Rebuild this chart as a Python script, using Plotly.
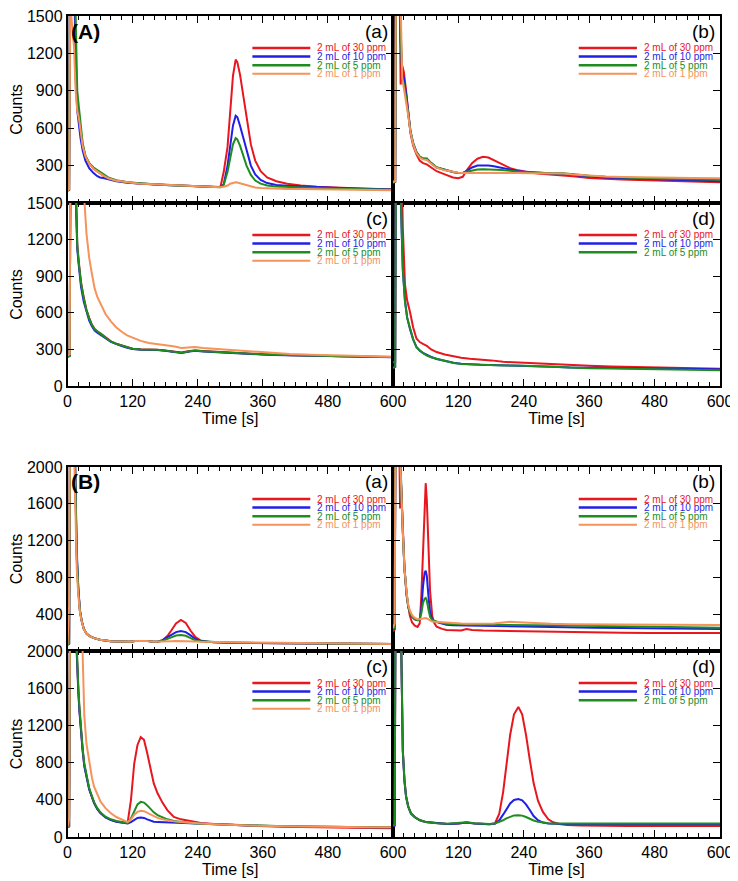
import plotly.graph_objects as go

# Page body has an 8px margin; positions below are measured in window pixels and shifted by OFF.
OFF = 8
W, H = 730, 873

# ---------------- DATA ----------------
series_names = ["2 mL of 30 ppm", "2 mL of 10 ppm", "2 mL of 5 ppm", "2 mL of 1 ppm"]
series_colors = ["#e8161e", "#1f1fe6", "#1e8c1e", "#f5935a"]

# Group A, panel (a)
tAa = [0, 3, 5, 8, 12, 15, 18, 21, 24, 28, 33, 40, 48, 55, 60, 66, 75, 90, 110, 130, 160, 190, 220, 250, 270, 282,
       288, 295, 300, 305, 310, 313, 318, 324, 330, 338, 346, 356, 368, 385, 405, 430, 460, 500, 550, 600]
Aa_30 = [100, 105, 2500, 3000, 2200, 1200, 780, 700, 570, 460, 380, 320, 275, 250, 238, 220, 198, 178, 165, 157, 150, 143, 137, 131, 128, 130,
         250, 450, 750, 1020, 1150, 1130, 1030, 860, 680, 470, 340, 255, 205, 175, 155, 140, 130, 122, 115, 110]
Aa_10 = [100, 105, 2400, 3000, 2000, 1000, 740, 600, 520, 420, 340, 280, 240, 215, 205, 200, 190, 175, 163, 156, 149, 142, 136, 130, 127, 128,
         150, 300, 460, 620, 700, 690, 620, 520, 410, 300, 230, 185, 160, 145, 138, 135, 128, 120, 113, 108]
Aa_5 = [100, 105, 2300, 3000, 2500, 1500, 900, 770, 640, 480, 380, 320, 285, 262, 250, 232, 205, 182, 167, 158, 150, 143, 137, 131, 128, 127,
        145, 250, 360, 470, 520, 510, 460, 380, 300, 225, 180, 155, 140, 132, 128, 125, 120, 115, 110, 106]
Aa_1 = [100, 110, 1600, 1450, 1250, 900, 740, 680, 560, 455, 375, 315, 275, 250, 238, 220, 198, 178, 165, 157, 150, 143, 137, 131, 128, 127,
        130, 140, 155, 163, 166, 165, 158, 150, 140, 130, 124, 120, 117, 115, 113, 112, 110, 107, 104, 102]

# Group A, panel (b)
tAb = [0, 4, 6, 9, 12, 14, 17, 20, 24, 28, 32, 37, 43, 49, 55, 62, 70, 80, 95, 110, 120, 128, 135, 145, 155, 165, 175, 185,
       200, 215, 230, 250, 270, 290, 312, 330, 360, 390, 420, 450, 500, 550, 600]
Ab_30 = [175, 180, 2500, 3000, 1800, 950, 1100, 1050, 900, 700, 560, 460, 390, 340, 320, 310, 285, 255, 230, 205, 198, 210, 260, 320, 355, 370, 365, 345,
         310, 280, 262, 245, 235, 228, 225, 215, 200, 192, 188, 185, 178, 172, 166]
Ab_10 = [165, 170, 2400, 3000, 2000, 1300, 1050, 1000, 880, 720, 580, 480, 410, 370, 355, 355, 320, 285, 265, 248, 240, 240, 258, 285, 300, 302, 300, 295,
         280, 265, 255, 248, 240, 237, 235, 225, 212, 205, 200, 196, 188, 182, 175]
Ab_5 = [165, 170, 2300, 3000, 2200, 1400, 1000, 950, 850, 710, 575, 478, 408, 372, 357, 357, 322, 287, 266, 249, 241, 242, 250, 262, 268, 270, 270, 270,
        265, 258, 250, 246, 241, 238, 238, 230, 218, 210, 204, 200, 194, 190, 187]
Ab_1 = [165, 175, 3000, 3000, 2500, 1600, 1000, 920, 820, 700, 570, 470, 400, 365, 350, 345, 315, 283, 262, 248, 242, 240, 240, 242, 245, 245, 245, 245,
        245, 243, 240, 238, 236, 235, 236, 228, 218, 212, 208, 205, 202, 200, 198]

# Group A, panel (c)
tAc = [0, 4, 6, 9, 12, 15, 18, 21, 25, 30, 35, 40, 45, 50, 55, 62, 70, 80, 90, 100, 110, 120, 135, 150, 165, 180, 195, 210,
       225, 235, 250, 270, 290, 310, 330, 350, 380, 410, 450, 500, 550, 600]
Ac_30 = [245, 250, 2500, 3000, 2500, 1700, 1160, 1010, 850, 725, 625, 558, 503, 468, 447, 427, 397, 366, 346, 331, 316, 306, 301, 301, 298, 291, 284, 274,
         286, 291, 286, 281, 273, 268, 265, 262, 257, 253, 250, 245, 240, 238]
Ac_10 = [240, 245, 2500, 3000, 2400, 1600, 1120, 980, 810, 690, 600, 535, 490, 455, 437, 418, 392, 362, 343, 328, 313, 303, 298, 298, 295, 288, 281, 271,
         283, 288, 283, 278, 271, 266, 263, 260, 255, 251, 248, 243, 239, 236]
Ac_5 = [240, 245, 2500, 3000, 2500, 1700, 1150, 1000, 840, 720, 620, 555, 500, 465, 445, 425, 395, 365, 345, 330, 315, 305, 300, 300, 297, 290, 283, 272,
        285, 290, 285, 280, 272, 268, 265, 262, 257, 253, 250, 245, 240, 238]
Ac_1 = [250, 260, 3000, 3000, 3000, 3000, 3000, 3000, 2500, 1600, 1250, 1050, 920, 800, 730, 660, 590, 530, 480, 445, 415, 397, 370, 352, 345, 338, 325, 312,
        315, 320, 312, 305, 298, 293, 290, 280, 270, 262, 257, 250, 243, 240]

# Group A, panel (d)
tAd = [0, 4, 6, 9, 12, 15, 18, 22, 26, 31, 37, 43, 49, 55, 62, 70, 80, 95, 111, 125, 141, 160, 180, 202, 230, 263, 295, 325, 360, 400, 447, 500, 550, 600]
Ad_30 = [195, 200, 3000, 3000, 3000, 2000, 1300, 830, 700, 610, 480, 390, 360, 345, 330, 300, 278, 258, 242, 232, 224, 218, 210, 198, 192, 185, 178, 170, 165, 160, 156, 150, 145, 142]
Ad_10 = [150, 155, 3000, 3000, 3000, 1400, 950, 700, 560, 470, 380, 320, 290, 272, 255, 238, 222, 205, 190, 183, 178, 175, 173, 171, 170, 163, 158, 152, 150, 147, 144, 142, 140, 138]
Ad_5 = [150, 155, 3000, 3000, 3000, 1450, 960, 690, 560, 478, 385, 317, 290, 269, 250, 235, 223, 205, 188, 180, 177, 173, 170, 169, 168, 161, 155, 150, 146, 143, 140, 136, 132, 129]

# Group B, panel (a)
tBa = [0, 3, 5, 8, 11, 14, 17, 20, 23, 26, 30, 35, 40, 49, 60, 80, 100, 115, 125, 135, 145, 158, 166, 175, 185, 191, 200, 209, 218, 227, 236, 245, 258,
       270, 300, 350, 400, 450, 500, 550, 600]
Ba_30 = [70, 80, 3000, 3000, 3000, 2000, 1000, 650, 430, 330, 240, 190, 165, 140, 122, 105, 100, 100, 108, 112, 110, 100, 100, 115, 170, 220, 300, 337, 305,
         220, 150, 115, 100, 95, 90, 87, 85, 82, 80, 76, 75]
Ba_10 = [70, 80, 3000, 3000, 3000, 2100, 1100, 680, 440, 335, 242, 190, 165, 140, 122, 105, 100, 100, 108, 112, 110, 100, 100, 118, 150, 170, 205, 218, 205,
         170, 130, 110, 100, 95, 90, 87, 85, 82, 80, 76, 75]
Ba_5 = [70, 80, 3000, 3000, 3000, 2000, 1050, 660, 435, 332, 240, 190, 165, 140, 122, 105, 100, 100, 108, 112, 110, 100, 100, 110, 135, 150, 168, 175, 165,
        140, 115, 105, 100, 95, 90, 87, 85, 82, 80, 76, 75]
Ba_1 = [70, 500, 3000, 3000, 2500, 1700, 900, 600, 420, 325, 238, 190, 165, 140, 122, 105, 100, 100, 108, 112, 110, 100, 100, 102, 105, 107, 110, 110, 108,
        105, 102, 100, 99, 95, 90, 87, 85, 82, 80, 76, 75]

# Group B, panel (b)
tBb = [0, 3, 5, 8, 11, 13, 15, 18, 21, 25, 28, 31, 35, 40, 45, 49, 52, 55, 58, 60, 62, 65, 68, 72, 76, 80, 90, 98, 110, 125, 135, 145, 165, 185,
       202, 215, 230, 260, 290, 325, 370, 420, 470, 520, 560, 600]
Bb_30 = [215, 230, 3000, 3000, 2500, 1550, 1800, 1400, 900, 600, 460, 380, 310, 275, 262, 300, 600, 1100, 1650, 1824, 1650, 1100, 650, 380, 300, 265,
         240, 229, 226, 224, 240, 228, 222, 220, 219, 217, 215, 210, 205, 201, 199, 198, 197, 196, 195, 195]
Bb_10 = [230, 240, 3000, 3000, 2800, 2200, 1800, 1300, 900, 620, 480, 420, 370, 345, 335, 345, 450, 700, 850, 874, 820, 600, 420, 340, 320, 315,
         300, 285, 280, 278, 277, 276, 275, 273, 272, 270, 268, 264, 260, 258, 254, 250, 247, 244, 242, 240]
Bb_5 = [240, 250, 3000, 3000, 2800, 2200, 1800, 1300, 900, 620, 480, 420, 370, 345, 335, 345, 410, 520, 570, 577, 550, 450, 370, 335, 325, 320,
        305, 295, 292, 290, 290, 290, 288, 286, 283, 282, 281, 280, 279, 276, 272, 268, 263, 260, 257, 254]
Bb_1 = [250, 300, 3000, 3000, 2500, 2000, 1788, 1300, 900, 640, 500, 440, 390, 360, 345, 345, 350, 355, 358, 358, 355, 345, 330, 320, 318, 316,
        312, 308, 302, 298, 297, 297, 297, 300, 310, 318, 312, 300, 295, 290, 288, 286, 285, 284, 283, 283]

# Group B, panel (c)
tBc = [0, 3, 5, 8, 11, 14, 17, 20, 22, 25, 28, 31, 35, 40, 45, 49, 55, 61, 70, 80, 90, 100, 111, 117, 123, 129, 135, 141, 147, 153, 159, 166, 175, 184,
       196, 209, 225, 246, 270, 308, 350, 400, 450, 500, 554, 600]
Bc_30 = [108, 115, 3000, 3000, 3000, 2450, 1950, 1580, 1370, 1120, 930, 770, 645, 515, 432, 367, 302, 257, 212, 184, 166, 156, 160, 400, 790, 990, 1074,
         1045, 900, 720, 577, 470, 370, 289, 216, 190, 172, 150, 140, 126, 118, 110, 104, 100, 97, 95]
Bc_10 = [108, 115, 3000, 3000, 3000, 2400, 1900, 1550, 1350, 1100, 920, 760, 640, 510, 430, 365, 300, 255, 210, 182, 165, 155, 145, 160, 185, 205, 210,
         205, 190, 175, 165, 160, 158, 156, 155, 152, 148, 143, 138, 128, 120, 115, 110, 108, 106, 105]
Bc_5 = [108, 115, 3000, 3000, 3000, 2500, 2000, 1600, 1400, 1140, 950, 790, 660, 525, 440, 375, 310, 262, 218, 190, 172, 160, 150, 200, 270, 350, 378,
        370, 340, 300, 265, 235, 210, 190, 172, 160, 150, 143, 138, 128, 120, 115, 110, 108, 106, 105]
Bc_1 = [108, 200, 3000, 3000, 3000, 3000, 3000, 3000, 3000, 2600, 1800, 1300, 1000, 793, 640, 541, 450, 380, 310, 255, 215, 185, 160, 190, 240, 270, 281,
        278, 260, 240, 222, 205, 190, 178, 168, 160, 152, 145, 138, 128, 120, 115, 110, 108, 106, 105]

# Group B, panel (d)
tBd = [0, 3, 5, 8, 11, 14, 16, 18, 21, 24, 28, 33, 40, 49, 60, 80, 100, 120, 135, 150, 165, 177, 187, 195, 202, 208, 215, 222, 230, 237, 244, 251, 258,
       266, 275, 285, 294, 305, 320, 345, 386, 430, 480, 530, 600]
Bd_30 = [120, 125, 3000, 3000, 3000, 2500, 1900, 940, 620, 440, 330, 255, 215, 182, 162, 147, 140, 145, 155, 145, 140, 137, 145, 250, 480, 800, 1100, 1320,
         1399, 1320, 1100, 830, 580, 390, 270, 190, 158, 140, 128, 123, 119, 119, 119, 118, 118]
Bd_10 = [115, 120, 3000, 3000, 3000, 2450, 1850, 920, 600, 430, 322, 250, 212, 180, 160, 146, 140, 145, 155, 145, 140, 137, 145, 180, 240, 300, 360, 398,
         408, 395, 350, 290, 225, 180, 155, 145, 142, 140, 138, 138, 137, 137, 137, 137, 137]
Bd_5 = [125, 130, 3000, 3000, 3000, 2500, 1900, 930, 610, 435, 326, 252, 214, 181, 161, 147, 142, 147, 158, 148, 143, 140, 145, 160, 180, 200, 220, 232,
        235, 230, 215, 195, 178, 163, 153, 148, 146, 145, 145, 145, 145, 145, 145, 145, 145]

x_ticks = [0, 120, 240, 360, 480, 600]
yA_ticks = [0, 300, 600, 900, 1200, 1500]
yB_ticks = [0, 400, 800, 1200, 1600, 2000]

panels = [
    ("(a)", tAa, [Aa_30, Aa_10, Aa_5, Aa_1], yA_ticks, 1500),
    ("(b)", tAb, [Ab_30, Ab_10, Ab_5, Ab_1], yA_ticks, 1500),
    ("(c)", tAc, [Ac_30, Ac_10, Ac_5, Ac_1], yA_ticks, 1500),
    ("(d)", tAd, [Ad_30, Ad_10, Ad_5], yA_ticks, 1500),
    ("(a)", tBa, [Ba_30, Ba_10, Ba_5, Ba_1], yB_ticks, 2000),
    ("(b)", tBb, [Bb_30, Bb_10, Bb_5, Bb_1], yB_ticks, 2000),
    ("(c)", tBc, [Bc_30, Bc_10, Bc_5, Bc_1], yB_ticks, 2000),
    ("(d)", tBd, [Bd_30, Bd_10, Bd_5], yB_ticks, 2000),
]

# ---------------- LAYOUT (window-pixel boxes) ----------------
xL = (67.5, 393)
xR = (393, 720)
rows_px = [(16, 203), (203, 386), (467, 651), (651, 837)]
boxes = [
    (xL, rows_px[0]), (xR, rows_px[0]), (xL, rows_px[1]), (xR, rows_px[1]),
    (xL, rows_px[2]), (xR, rows_px[2]), (xL, rows_px[3]), (xR, rows_px[3]),
]

def px_x(x):
    return (x - OFF) / W

def px_y(y):
    return 1 - (y - OFF) / H

FONT = "Liberation Sans, Arial, sans-serif"
fig = go.Figure()
shapes = []
annotations = []
layout = dict(
    width=W, height=H, margin=dict(l=0, r=0, t=0, b=0, autoexpand=False),
    paper_bgcolor="white", plot_bgcolor="white", showlegend=False,
    font=dict(family=FONT, size=16, color="black"),
)

for i, (label, t, ys, yticks, ymax) in enumerate(panels):
    n = i + 1
    xa = "x" if n == 1 else f"x{n}"
    ya = "y" if n == 1 else f"y{n}"
    (x0, x1), (y0, y1) = boxes[i]
    left = i % 2 == 0
    bottom = i in (2, 3, 6, 7)
    for k, y in enumerate(ys):
        fig.add_trace(go.Scatter(
            x=t, y=y, mode="lines", name=series_names[k],
            line=dict(color=series_colors[k], width=2),
            xaxis=xa, yaxis=ya, showlegend=False,
        ))
    xkey = "xaxis" if n == 1 else f"xaxis{n}"
    ykey = "yaxis" if n == 1 else f"yaxis{n}"
    if bottom:
        xtext = [str(v) for v in x_ticks] if left else [""] + [str(v) for v in x_ticks[1:]]
    else:
        xtext = ["" for v in x_ticks]
    layout[xkey] = dict(
        domain=[px_x(x0), px_x(x1)], anchor=ya, range=[0, 600], automargin=False,
        tickmode="array", tickvals=x_ticks, ticktext=xtext, ticklabeloverflow="allow",
        showline=True, linecolor="black", linewidth=1.5, mirror="allticks",
        ticks="inside", ticklen=7, tickwidth=1.3, tickcolor="black",
        minor=dict(ticks="inside", dtick=20, tick0=0, ticklen=4, tickwidth=1.2, tickcolor="black"),
        showgrid=False, zeroline=False, tickfont=dict(size=16),
        title=dict(text="Time [s]", font=dict(size=16), standoff=0) if bottom else None,
    )
    if left:
        if bottom:
            ytext = [str(v) for v in yticks]
        else:
            ytext = [""] + [str(v) for v in yticks[1:]]
    else:
        ytext = ["" for v in yticks]
    layout[ykey] = dict(
        domain=[px_y(y1), px_y(y0)], anchor=xa, range=[0, ymax], automargin=False,
        tickmode="array", tickvals=yticks, ticktext=ytext, ticklabeloverflow="allow",
        showline=True, linecolor="black", linewidth=1.5, mirror="allticks",
        ticks="inside", ticklen=7, tickwidth=1.3, tickcolor="black",
        showgrid=False, zeroline=False, tickfont=dict(size=16),
        title=dict(text="Counts", font=dict(size=16), standoff=15) if left else None,
    )
    annotations.append(dict(
        x=px_x(x1 - 3), y=px_y(y0 + 15), xref="paper", yref="paper",
        text=label, showarrow=False, xanchor="right", yanchor="middle",
        font=dict(size=19, color="black", family=FONT),
    ))
    offsets = [32, 40.6, 49.2, 57.8]
    for k in range(len(ys)):
        yy = px_y(y0 + offsets[k])
        shapes.append(dict(
            type="line", xref="paper", yref="paper",
            x0=px_x(x0 + 0.568 * (x1 - x0)), x1=px_x(x0 + 0.746 * (x1 - x0)), y0=yy, y1=yy,
            line=dict(color=series_colors[k], width=2.5 if k < 3 else 2),
        ))
        annotations.append(dict(
            x=px_x(x0 + 0.763 * (x1 - x0)), y=yy, xref="paper", yref="paper",
            text=series_names[k], showarrow=False, xanchor="left", yanchor="middle",
            font=dict(size=10, color=series_colors[k], family=FONT), borderpad=0,
        ))

annotations.append(dict(x=px_x(69), y=px_y(31), xref="paper", yref="paper", text="<b>(A)</b>",
                        showarrow=False, xanchor="left", yanchor="middle",
                        font=dict(size=21, color="black", family=FONT)))
annotations.append(dict(x=px_x(69), y=px_y(482), xref="paper", yref="paper", text="<b>(B)</b>",
                        showarrow=False, xanchor="left", yanchor="middle",
                        font=dict(size=21, color="black", family=FONT)))

layout["shapes"] = shapes
layout["annotations"] = annotations
fig.update_layout(**layout)
fig.write_html("out.html")
